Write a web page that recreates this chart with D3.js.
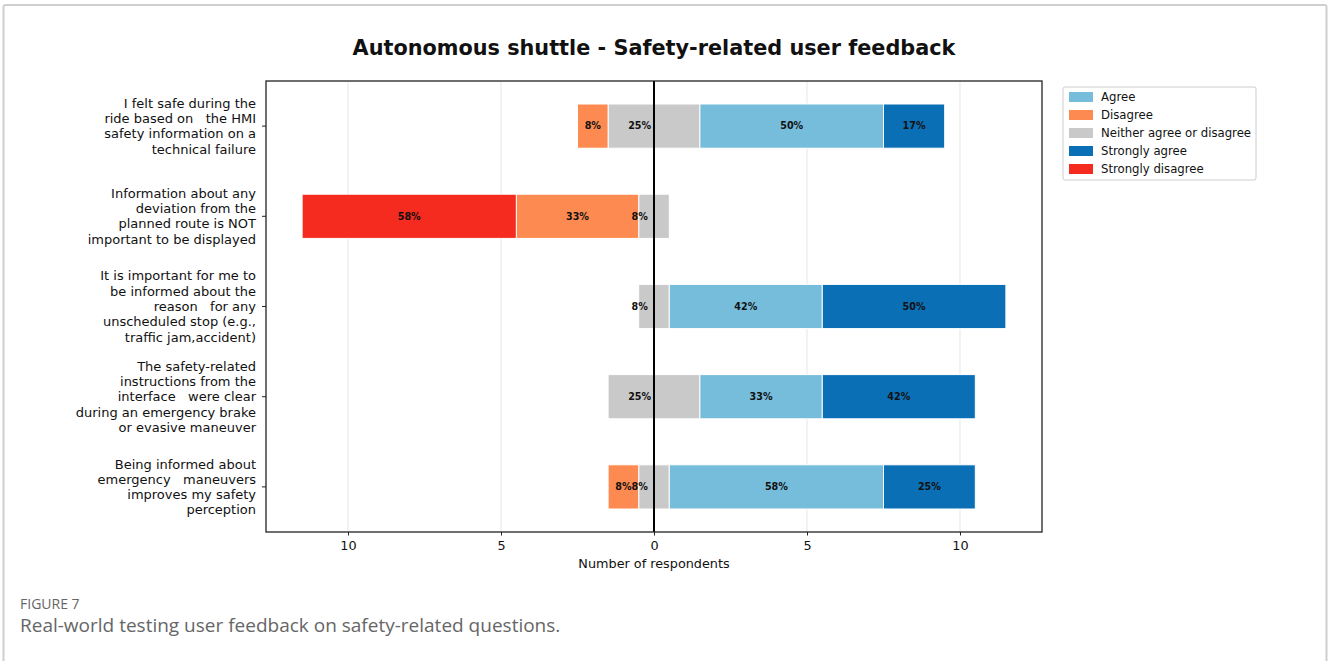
<!DOCTYPE html>
<html><head><meta charset="utf-8">
<script src="https://cdn.jsdelivr.net/npm/d3@7"></script>
<style>body{margin:0;background:#fff;}svg{display:block;}</style>
</head><body>
<script>
const questions = [
  ["I felt safe during the", "ride based on   the HMI", "safety information on a", "technical failure"],
  ["Information about any", "deviation from the", "planned route is NOT", "important to be displayed"],
  ["It is important for me to", "be informed about the", "reason   for any", "unscheduled stop (e.g.,", "traffic jam,accident)"],
  ["The safety-related", "instructions from the", "interface   were clear", "during an emergency brake", "or evasive maneuver"],
  ["Being informed about", "emergency   maneuvers", "improves my safety", "perception"]
];
const stronglyDisagree = [0, 7, 0, 0, 0];
const disagree        = [1, 4, 0, 0, 1];
const neither         = [3, 1, 1, 3, 1];
const agree           = [6, 0, 5, 4, 7];
const stronglyAgree   = [2, 0, 6, 5, 3];
const totalRespondents = 12;
const xTicks = [-10, -5, 0, 5, 10];
const legendNames = ["Agree", "Disagree", "Neither agree or disagree", "Strongly agree", "Strongly disagree"];
const colors = {"Agree":"#76bddb","Disagree":"#fd8a50","Neither agree or disagree":"#c9c9c9","Strongly agree":"#0b6fb5","Strongly disagree":"#f42b1e"};

const W = 1328, H = 661;
const svg = d3.select("body").append("svg").attr("width", W).attr("height", H);
svg.append("rect").attr("x",3.5).attr("y",5).attr("width",1323).attr("height",H+10)
  .attr("fill","none").attr("stroke","#cfcfcf").attr("stroke-width",2).attr("rx",2);

const m = {left:266, right:1042, top:81, bottom:532};
const x = d3.scaleLinear().domain([-12.68, 12.68]).range([m.left, m.right]);
const y = d3.scaleBand().domain(d3.range(questions.length)).range([m.top, m.bottom]).paddingInner(0.51).paddingOuter(0.255);

// grid
svg.append("g").selectAll("line").data(xTicks).join("line")
  .attr("x1", d=>x(d)).attr("x2", d=>x(d)).attr("y1", m.top).attr("y2", m.bottom)
  .attr("stroke","#e6e6e6").attr("stroke-width",1);

// segments
const segs = [];
questions.forEach((q,i)=>{
  const n = neither[i];
  segs.push({i, cat:"Neither agree or disagree", x0:-n/2, x1:n/2, v:n, neutral:true});
  let cur = -n/2;
  [["Disagree",disagree[i]],["Strongly disagree",stronglyDisagree[i]]].forEach(([c,v])=>{
    if(v>0){segs.push({i,cat:c,x0:cur-v,x1:cur,v}); cur-=v;}
  });
  cur = n/2;
  [["Agree",agree[i]],["Strongly agree",stronglyAgree[i]]].forEach(([c,v])=>{
    if(v>0){segs.push({i,cat:c,x0:cur,x1:cur+v,v}); cur+=v;}
  });
});
svg.append("g").selectAll("rect").data(segs.filter(s=>s.v>0)).join("rect")
  .attr("x", d=>x(d.x0)).attr("width", d=>x(d.x1)-x(d.x0))
  .attr("y", d=>y(d.i)).attr("height", y.bandwidth())
  .attr("fill", d=>colors[d.cat]).attr("stroke","#fff").attr("stroke-width",1);

svg.append("g").selectAll("text").data(segs.filter(s=>s.v>0)).join("text")
  .attr("x", d=> d.neutral ? x(-0.47) : x((d.x0+d.x1)/2))
  .attr("y", d=>y(d.i)+y.bandwidth()/2)
  .attr("dy","0.35em").attr("text-anchor","middle")
  .attr("font-family","DejaVu Sans").attr("font-weight","bold").attr("font-size",9.6).attr("fill","#111")
  .text(d=>Math.round(d.v/totalRespondents*100)+"%");

// zero line
svg.append("line").attr("x1",x(0)).attr("x2",x(0)).attr("y1",m.top).attr("y2",m.bottom)
  .attr("stroke","#000").attr("stroke-width",2);

// frame
svg.append("rect").attr("x",m.left).attr("y",m.top).attr("width",m.right-m.left).attr("height",m.bottom-m.top)
  .attr("fill","none").attr("stroke","#222").attr("stroke-width",1.3);

// x axis
const xa = svg.append("g").attr("transform",`translate(0,${m.bottom})`)
  .call(d3.axisBottom(x).tickValues(xTicks).tickFormat(d=>Math.abs(d)).tickSize(3.5).tickPadding(5));
xa.select(".domain").remove();
xa.selectAll("text").attr("font-family","DejaVu Sans").attr("font-size",12.8).attr("fill","#111");
xa.selectAll("line").attr("stroke","#222");
svg.append("text").attr("x",x(0)).attr("y",568).attr("text-anchor","middle")
  .attr("font-family","DejaVu Sans").attr("font-size",12.8).attr("fill","#111").text("Number of respondents");

// y axis
const ya = svg.append("g").attr("transform",`translate(${m.left},0)`)
  .call(d3.axisLeft(y).tickFormat("").tickSize(4).tickSizeOuter(0).offset(0));
ya.select(".domain").remove();
ya.selectAll("line").attr("stroke","#222");
const lh = 15.3;
svg.append("g").selectAll("text").data(questions).join("text")
  .attr("text-anchor","end").attr("font-family","DejaVu Sans").attr("font-size",13).attr("fill","#111")
  .attr("transform",(d,i)=>`translate(256,${y(i)+y.bandwidth()/2 - (d.length-1)*lh/2})`)
  .each(function(d){
    d3.select(this).selectAll("tspan").data(d).join("tspan")
      .attr("x",0).attr("dy",(t,j)=> j===0 ? "0.35em" : lh).style("white-space","pre").text(t=>t);
  });

// title
svg.append("text").attr("x",654).attr("y",55).attr("text-anchor","middle")
  .attr("font-family","DejaVu Sans").attr("font-weight","bold").attr("font-size",20.8).attr("fill","#111")
  .text("Autonomous shuttle - Safety-related user feedback");

// legend
const lg = svg.append("g").attr("transform","translate(1063,87)");
lg.append("rect").attr("width",193).attr("height",93).attr("rx",2).attr("fill","#fff").attr("stroke","#ccc");
legendNames.forEach((n,k)=>{
  lg.append("rect").attr("x",6).attr("y",5+k*18).attr("width",24).attr("height",10).attr("fill",colors[n]);
  lg.append("text").attr("x",38).attr("y",10+k*18).attr("dy","0.35em")
    .attr("font-family","DejaVu Sans").attr("font-size",11.7).attr("fill","#111").text(n);
});

// caption
svg.append("text").attr("x",20).attr("y",609).attr("font-family","Open Sans").attr("font-size",14)
  .attr("fill","#666").text("FIGURE 7");
svg.append("text").attr("x",20).attr("y",632).attr("font-family","Open Sans").attr("font-size",19)
  .attr("fill","#666").text("Real-world testing user feedback on safety-related questions.");
</script>
</body></html>
